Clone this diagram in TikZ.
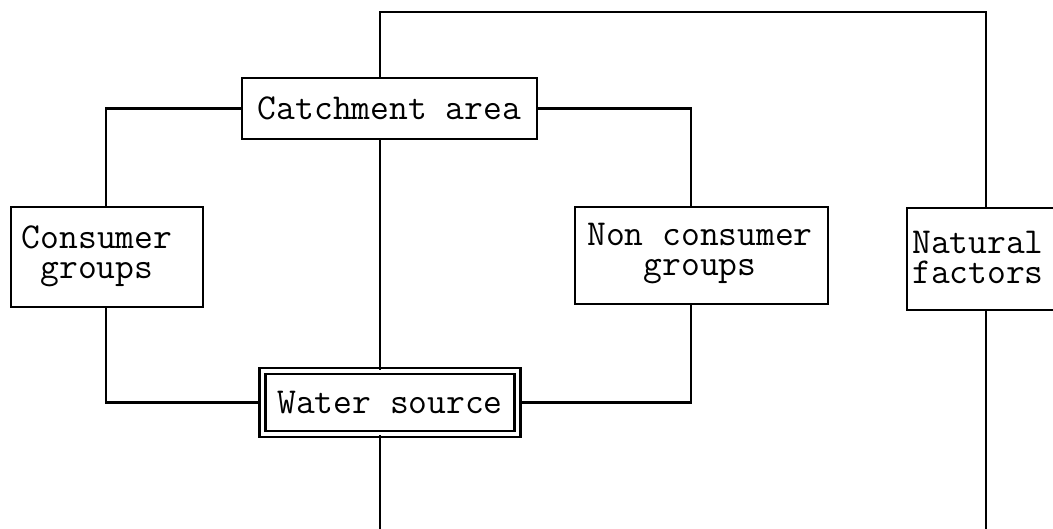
\documentclass[tikz,border=0pt]{standalone}
\usepackage{fontspec}
\begin{document}
\begin{tikzpicture}[x=1pt,y=-1pt,
  lw/.style={line width=2.9pt},
  box/.style={draw,lw,rectangle,inner sep=0pt},
  txt/.style={font=\ttfamily\fontsize{36.5}{30}\selectfont,align=center,inner sep=0pt},
  link/.style={lw,line join=miter}]
\useasboundingbox (0,0) rectangle (1053,529);
\clip (0,0) rectangle (1053,529);

% boxes
\node[box,minimum width=295pt,minimum height=61pt] (catch) at (389.5,108.5) {};
\node[txt] at (catch.center) {Catchment area};

\node[box,minimum width=192pt,minimum height=100pt] (cons) at (107,257) {};
\node[txt] at (97,256) {Consumer\\groups};

\node[box,minimum width=253pt,minimum height=97pt] (non) at (701.5,255.5) {};
\node[txt] at (700,254) {Non consumer\\groups};

\node[box,minimum width=159pt,minimum height=102pt] (nat) at (986.5,259) {};
\node[txt,align=left,anchor=west] at (912,257) {Natural\\factors};

\node[draw,line width=2.4pt,double=white,double distance=3.4pt,rectangle,inner sep=0pt,
      minimum width=255pt,minimum height=63pt] (water) at (390,402.5) {};
\node[txt] at (water.center) {Water source};

% connector corners and free ends
\coordinate (tl) at (380,12);
\coordinate (tr) at (986,12);
\coordinate (nx) at (691,0);
\coordinate (wbot) at (380,530);
\coordinate (nbot) at (986,530);

% connectors
\draw[link] (catch.north -| tl) -- (tl) -- (tr) -- (nat.north -| tr);
\draw[link] (catch.west) -| (cons.north -| 106,0);
\draw[link] (catch.east) -| (non.north -| nx);
\draw[link] (cons.south -| 106,0) |- (water.west);
\draw[link] (non.south -| nx) |- (water.east);
\draw[link] (catch.south -| tl) -- (water.north -| tl);
\draw[link] (water.south -| tl) -- (wbot);
\draw[link] (nat.south -| tr) -- (nbot);
\end{tikzpicture}
\end{document}
